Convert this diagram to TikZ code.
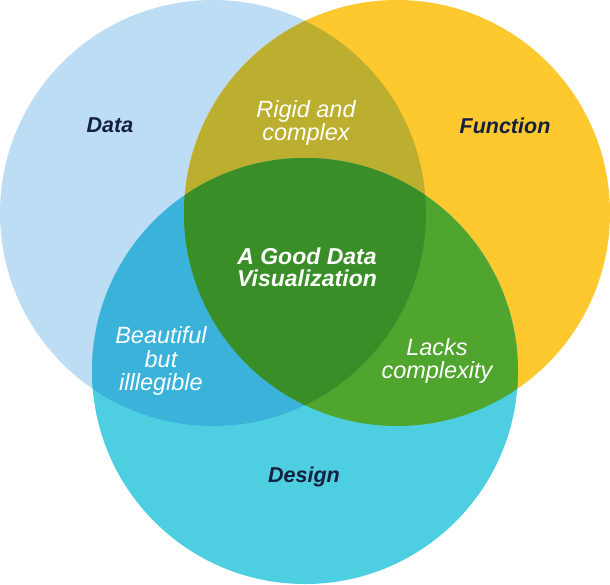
\documentclass[tikz,border=0pt]{standalone}
\usepackage{fontspec}
\setmainfont{Liberation Sans}
\definecolor{dataC}{HTML}{BDDDF4}
\definecolor{funcC}{HTML}{FEC82F}
\definecolor{designC}{HTML}{4DCFE1}
\definecolor{dataFuncC}{HTML}{BCAE2E}
\definecolor{dataDesignC}{HTML}{3AB2DA}
\definecolor{funcDesignC}{HTML}{4FA52D}
\definecolor{allC}{HTML}{3A8E28}
\definecolor{navyC}{HTML}{14213D}
\tikzset{
  setlabel/.style={text=navyC, font=\fontsize{21.5}{24}\selectfont\bfseries\itshape, anchor=base, inner sep=0pt},
  overlaplabel/.style={text=white, font=\fontsize{23.5}{23.5}\selectfont\itshape, align=center, inner sep=0pt},
  centrelabel/.style={text=white, font=\fontsize{23}{22}\selectfont\bfseries\itshape, align=center, inner sep=0pt}
}
\begin{document}
\begin{tikzpicture}[x=1pt, y=-1pt]
  \useasboundingbox (0,0) rectangle (610,584);
  % the three sets
  \def\dataPath{(213,213) circle[radius=213]}
  \def\funcPath{(397,213) circle[radius=213]}
  \def\designPath{(305,371) circle[radius=213]}
  \fill[dataC] \dataPath;
  \fill[funcC] \funcPath;
  \fill[designC] \designPath;
  % pairwise overlaps
  \begin{scope}
    \clip \dataPath;
    \fill[dataFuncC] \funcPath;
    \fill[dataDesignC] \designPath;
  \end{scope}
  \begin{scope}
    \clip \funcPath;
    \fill[funcDesignC] \designPath;
  \end{scope}
  % the common core
  \begin{scope}
    \clip \dataPath;
    \clip \funcPath;
    \fill[allC] \designPath;
  \end{scope}
  % set names
  \node[setlabel] (data) at (110,132) {Data};
  \node[setlabel] (function) at (505,133) {Function};
  \node[setlabel] (design) at (304,482) {Design};
  % overlap captions
  \node[overlaplabel] (rigid) at (306,123) {Rigid and\\complex};
  \node[overlaplabel] (beautiful) at (161,361) {Beautiful\\but\\illlegible};
  \node[overlaplabel] (lacks) at (437,361) {Lacks\\complexity};
  \node[centrelabel] (good) at (307,267) {A Good Data\\Visualization};
\end{tikzpicture}
\end{document}
